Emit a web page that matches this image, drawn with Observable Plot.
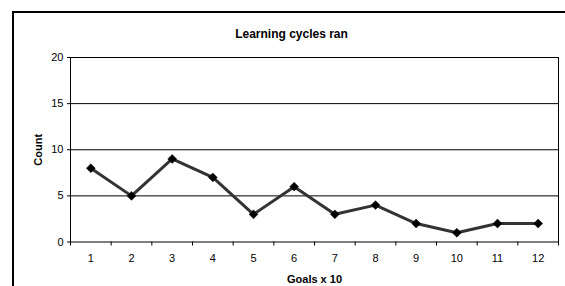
<!DOCTYPE html>
<html>
<head>
<meta charset="utf-8">
<script src="https://cdn.jsdelivr.net/npm/d3@7"></script>
<script src="https://cdn.jsdelivr.net/npm/@observablehq/plot@0.6"></script>
<style>
  html, body { margin: 0; padding: 0; background: #fff; }
  #wrap { position: relative; width: 565px; height: 286px; overflow: hidden; }
  #border { position: absolute; left: 12px; top: 11px; width: 700px; height: 400px;
            border-left: 2px solid #000; border-top: 2px solid #000; }
  svg { position: absolute; left: 0; top: 0; }
</style>
</head>
<body>
<div id="wrap"><div id="border"></div></div>
<script>
const title = "Learning cycles ran";
const xLabel = "Goals x 10";
const yLabel = "Count";
const goals = [1, 2, 3, 4, 5, 6, 7, 8, 9, 10, 11, 12];
const counts = [8, 5, 9, 7, 3, 6, 3, 4, 2, 1, 2, 2];
const yTicks = [0, 5, 10, 15, 20];

const data = goals.map((g, i) => ({goal: g, count: counts[i]}));
const boundaries = [0, ...goals].map(g => g + 0.5);

const chart = Plot.plot({
  width: 565,
  height: 286,
  marginLeft: 70,
  marginRight: 7,
  marginTop: 57,
  marginBottom: 44.5,
  style: {fontFamily: "Liberation Sans, Arial, sans-serif", fontSize: "11px", color: "#000", background: "transparent"},
  x: {type: "linear", domain: [0.5, 12.5]},
  y: {type: "linear", domain: [0, 20]},
  marks: [
    Plot.gridY({ticks: yTicks.slice(1, -1), stroke: "#000", strokeOpacity: 1}),
    Plot.frame({stroke: "#000", strokeWidth: 1}),
    Plot.axisY({ticks: yTicks, tickSize: 3, tickPadding: 4, tickFormat: d => d,
      label: yLabel, labelAnchor: "center", labelArrow: "none", labelOffset: 36,
      fontWeight: "normal"}),
    Plot.axisX({ticks: goals, tickSize: 0, tickPadding: 12, tickFormat: d => d,
      label: xLabel, labelAnchor: "center", labelArrow: "none", labelOffset: 41}),
    Plot.axisX({ticks: boundaries, tickSize: 4, tickFormat: () => "", label: null}),
    Plot.line(data, {x: "goal", y: "count", stroke: "#333", strokeWidth: 3}),
    Plot.dot(data, {x: "goal", y: "count", symbol: "diamond2", r: 4, fill: "#000", stroke: "#000", strokeWidth: 0.5}),
    Plot.text([title], {frameAnchor: "top", dy: -28, dx: -23, fontWeight: "bold", fontSize: 12, fill: "#000"})
  ]
});
d3.select(chart).selectAll("g[aria-label='y-axis label'] text, g[aria-label='x-axis label'] text").attr("font-weight", "bold");
document.getElementById("wrap").appendChild(chart);
</script>
</body>
</html>
